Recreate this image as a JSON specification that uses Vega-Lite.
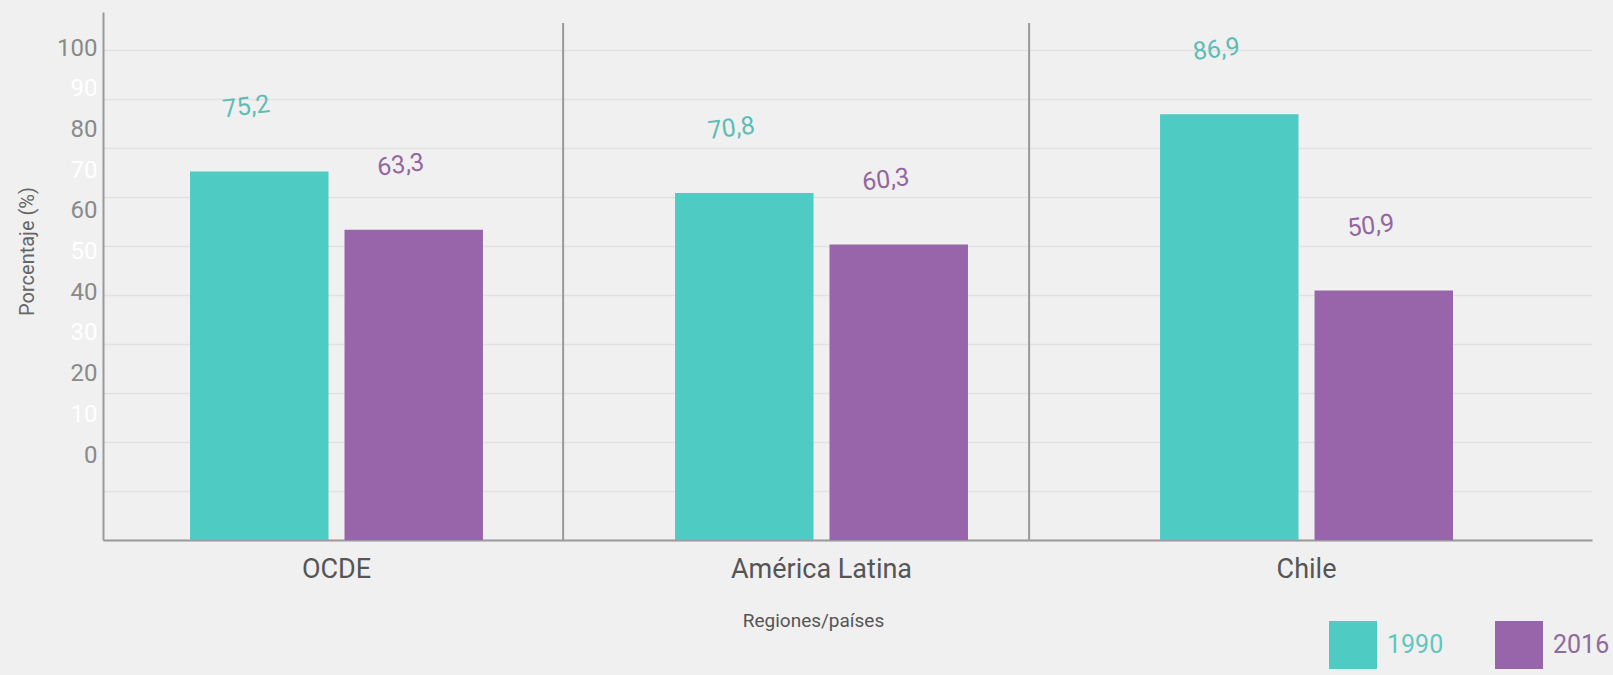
{
  "$schema": "https://vega.github.io/schema/vega-lite/v6.json",
  "width": 1489,
  "height": 528,
  "autosize": "none",
  "padding": {"left": 103, "top": 12, "right": 21, "bottom": 135},
  "background": "#f0f0f0",
  "config": {
    "view": {"stroke": null},
    "font": "Roboto, sans-serif"
  },
  "data": {
    "values": [
      {"region": "OCDE", "year": "1990", "value": 75.2, "label": "75,2"},
      {"region": "OCDE", "year": "2016", "value": 63.3, "label": "63,3"},
      {"region": "América Latina", "year": "1990", "value": 70.8, "label": "70,8"},
      {"region": "América Latina", "year": "2016", "value": 60.3, "label": "60,3"},
      {"region": "Chile", "year": "1990", "value": 86.9, "label": "86,9"},
      {"region": "Chile", "year": "2016", "value": 50.9, "label": "50,9"}
    ]
  },
  "encoding": {
    "x": {
      "field": "region",
      "type": "nominal",
      "sort": ["OCDE", "América Latina", "Chile"],
      "scale": {"paddingInner": 0.396, "paddingOuter": 0.233, "align": 0.385},
      "axis": {
        "title": "Regiones/países",
        "titleFontSize": 19,
        "titleFontWeight": "normal",
        "titleColor": "#555555",
        "titleX": 710,
        "titleY": 86,
        "titleBaseline": "alphabetic",
        "labelAngle": 0,
        "labelFontSize": 27,
        "labelColor": "#555555",
        "labelBaseline": "alphabetic",
        "labelPadding": 37,
        "labelLimit": 0,
        "ticks": false,
        "tickSize": 0,
        "domainColor": "#999999",
        "domainWidth": 2,
        "grid": false
      }
    }
  },
  "layer": [
    {
      "layer": [
        {
          "mark": {"type": "bar"},
          "encoding": {
            "xOffset": {"field": "year", "type": "nominal", "scale": {"paddingInner": 0.1036, "paddingOuter": 0}},
            "y": {
              "field": "value",
              "type": "quantitative",
              "scale": {"domain": [0, 107.76], "nice": false, "zero": true},
              "axis": {
                "orient": "left",
                "title": null,
                "labels": false,
                "ticks": false,
                "values": [0, 10, 20, 30, 40, 50, 60, 70, 80, 90, 100],
                "grid": true,
                "gridColor": "#e1e1e1",
                "gridWidth": 1.5,
                "domainColor": "#999999",
                "domainWidth": 2
              }
            },
            "color": {
              "field": "year",
              "type": "nominal",
              "scale": {"domain": ["1990", "2016"], "range": ["#4ecbc3", "#9865aa"]},
              "legend": {
                "orient": "none",
                "legendX": 1226,
                "legendY": 609,
                "direction": "horizontal",
                "title": null,
                "symbolType": "square",
                "symbolSize": 2304,
                "symbolStrokeWidth": 0,
                "symbolOpacity": 1,
                "labelFontSize": 25,
                "labelOffset": 10,
                "labelLimit": 0,
                "columnPadding": 51,
                "padding": 0,
                "encode": {
                  "labels": {
                    "update": {
                      "fill": {"signal": "datum.label == '1990' ? '#5fc7c0' : '#8f6a9f'"}
                    }
                  }
                }
              }
            }
          }
        },
        {
          "mark": {"type": "text", "dy": -66, "dx": -5, "angle": -7, "fontSize": 25, "baseline": "middle", "align": "center"},
          "encoding": {
            "xOffset": {"field": "year", "type": "nominal", "scale": {"paddingInner": 0.1036, "paddingOuter": 0}},
            "y": {"field": "value", "type": "quantitative", "title": null},
            "text": {"field": "label"},
            "color": {"condition": {"test": "datum.year == '1990'", "value": "#5bbdb6"}, "value": "#94669f"}
          }
        },
        {
          "transform": [{"filter": "datum.region == 'América Latina' && datum.year == '1990'"}],
          "mark": {"type": "rule", "color": "#999999", "strokeWidth": 2},
          "encoding": {
            "x": {"field": "region", "type": "nominal", "sort": ["OCDE", "América Latina", "Chile"], "bandPosition": -0.382},
            "y": {"datum": 105.5, "type": "quantitative", "title": null},
            "y2": {"datum": 0}
          }
        },
        {
          "transform": [{"filter": "datum.region == 'Chile' && datum.year == '1990'"}],
          "mark": {"type": "rule", "color": "#999999", "strokeWidth": 2},
          "encoding": {
            "x": {"field": "region", "type": "nominal", "sort": ["OCDE", "América Latina", "Chile"], "bandPosition": -0.447},
            "y": {"datum": 105.5, "type": "quantitative", "title": null},
            "y2": {"datum": 0}
          }
        }
      ]
    },
    {
      "mark": {"type": "point", "opacity": 0},
      "encoding": {
        "y": {
          "field": "value",
          "type": "quantitative",
          "scale": {"domain": [-20.88, 108.85], "nice": false, "zero": false},
          "axis": {
            "orient": "left",
            "title": "Porcentaje (%)",
            "titleFontSize": 20,
            "titleFontWeight": "normal",
            "titleColor": "#666666",
            "titleX": -76,
            "titleY": 239,
            "titleBaseline": "middle",
            "values": [0, 10, 20, 30, 40, 50, 60, 70, 80, 90, 100],
            "labelFontSize": 24,
            "labelPadding": 6,
            "labelColor": {"condition": {"test": "datum.value % 20 === 0", "value": "#8a8a8a"}, "value": "#ffffff"},
            "ticks": false,
            "tickSize": 0,
            "domain": false,
            "grid": false
          }
        }
      }
    }
  ],
  "resolve": {"scale": {"y": "independent"}}
}
